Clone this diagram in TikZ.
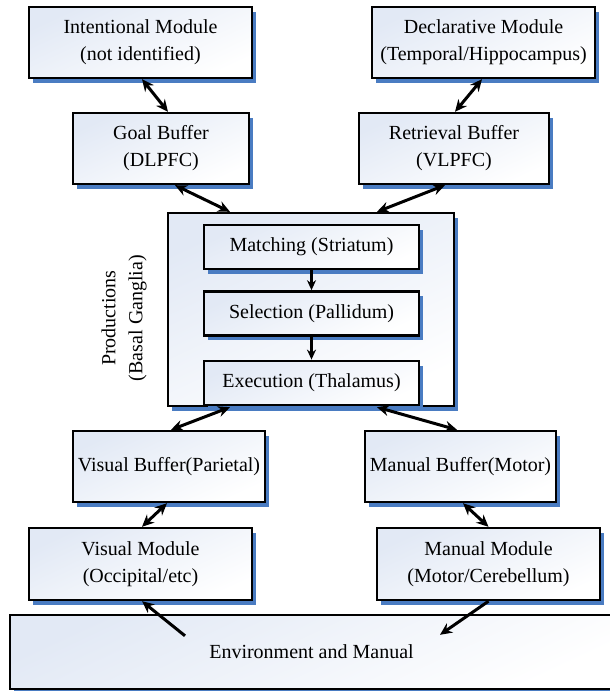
\documentclass[tikz,border=0pt]{standalone}
\usepackage{fontspec}
\setmainfont{Liberation Serif}
\usetikzlibrary{arrows.meta, positioning, shadows}
\definecolor{cshade}{HTML}{E2E9F5}
\definecolor{cshadow}{HTML}{4A7CC2}
\tikzset{
  every picture/.style={line width=2.4pt},
  box/.style={draw=black, top color=cshade, bottom color=white, shading angle=25,
    drop shadow={shadow xshift=4pt, shadow yshift=-5pt, fill=cshadow, opacity=1},
    align=center, inner sep=2pt, minimum height=71pt, font=\fontsize{20}{27}\selectfont},
  stagebox/.style={box, minimum width=215pt, minimum height=44pt},
  link/.style={{Stealth[length=12pt, width=11pt]}-{Stealth[length=12pt, width=11pt]}, line width=3pt},
  oneway/.style={-{Stealth[length=12pt, width=11pt]}, line width=3pt},
  inner/.style={-{Stealth[length=10pt, width=9pt]}, line width=2.4pt},
  label/.style={font=\fontsize{20}{27}\selectfont, align=center},
}

\begin{document}
\begin{tikzpicture}[x=1pt, y=-1pt]
  \path[use as bounding box, clip] (0,0) rectangle (610,691);

  % modules and buffers, top row
  \node[box, minimum width=223pt] (intent) at (140.5,42.5) {Intentional Module\\(not identified)};
  \node[box, minimum width=223pt] (decl) at (483.5,42.5) {Declarative Module\\(Temporal/Hippocampus)};
  \node[box, minimum width=176pt] (goal) at (161,148.5) {Goal Buffer\\(DLPFC)};
  \node[box, minimum width=190pt] (retr) at (454,148.5) {Retrieval Buffer\\(VLPFC)};

  % production system
  \node[box, minimum width=286pt, minimum height=193pt] (prod) at (311,309.5) {};
  \node[stagebox] (match) at (311.5,247) {Matching (Striatum)};
  \node[stagebox, below=20pt of match] (sel) {Selection (Pallidum)};
  \node[stagebox, below=23pt of sel] (exec) {Execution (Thalamus)};
  \node[label, rotate=90] (prodlbl) at (124,318) {Productions\\(Basal Ganglia)};
  \draw[inner] (match) -- (sel);
  \draw[inner] (sel) -- (exec);

  % perceptual / motor side
  \node[box, minimum width=192pt] (vbuf) at (169,466.5) {Visual Buffer(Parietal)};
  \node[box, minimum width=191pt] (mbuf) at (460.5,466.5) {Manual Buffer(Motor)};
  \node[box, minimum width=223pt, minimum height=72pt] (vmod) at (140.5,564) {Visual Module\\(Occipital/etc)};
  \node[box, minimum width=223pt, minimum height=72pt] (mmod) at (488.5,564) {Manual Module\\(Motor/Cerebellum)};
  \node[box, minimum width=603pt, minimum height=74pt] (env) at (311.5,652) {Environment and Manual};

  \draw[link] ([xshift=1.5pt]intent.south) -- ([xshift=7pt]goal.north);
  \draw[link] ([xshift=-1.5pt]decl.south) -- ([xshift=1pt]retr.north);
  \draw[link] ([xshift=14pt]goal.south) -- ([xshift=-81pt]prod.north);
  \draw[link] ([xshift=-9pt]retr.south) -- ([xshift=66pt]prod.north);
  \draw[link] ([xshift=-81pt]prod.south) -- ([xshift=2pt]vbuf.north);
  \draw[link] ([xshift=66pt]prod.south) -- ([xshift=-3.5pt]mbuf.north);
  \draw[link] ([xshift=-2pt]vbuf.south) -- ([xshift=1.5pt]vmod.north);
  \draw[link] ([xshift=2.5pt]mbuf.south) -- (mmod.north);
  \draw[oneway] ([xshift=-126.5pt, yshift=-22pt]env.north) -- ([xshift=1.5pt]vmod.south);
  \draw[oneway] (mmod.south) -- ([xshift=128.5pt, yshift=-21pt]env.north);
\end{tikzpicture}
\end{document}
